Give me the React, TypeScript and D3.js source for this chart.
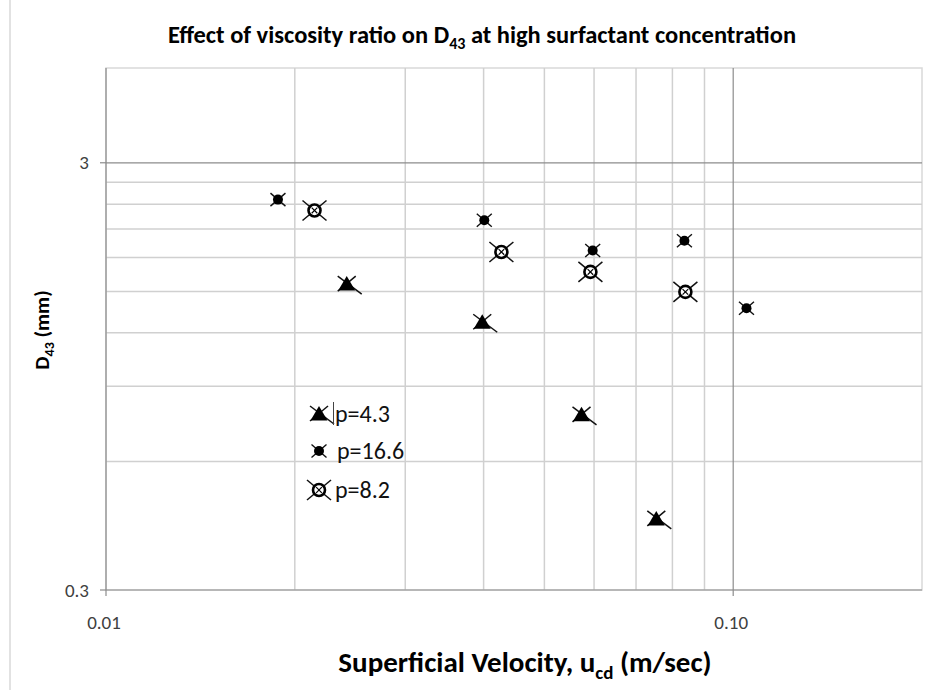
import React from "react";
import * as d3 from "d3";

// ---- Data ----
const seriesNames = ["p=4.3", "p=16.6", "p=8.2"];
const p43X = [0.0242, 0.0398, 0.0573, 0.0754];
const p43Y = [1.56, 1.27, 0.771, 0.44];
const p166X = [0.0188, 0.0401, 0.0597, 0.0836, 0.105];
const p166Y = [2.46, 2.2, 1.87, 1.97, 1.37];
const p82X = [0.0215, 0.0427, 0.0592, 0.0839];
const p82Y = [2.32, 1.855, 1.666, 1.496];

const xDomain = [0.01, 0.2];
const yDomain = [0.3, 5];
const xMinorTicks = [0.02, 0.03, 0.04, 0.05, 0.06, 0.07, 0.08, 0.09];
const xMajorTicks = [0.01, 0.1];
const xTickLabels = ["0.01", "0.10"];
const yMinorTicks = [0.6, 0.9, 1.2, 1.5, 1.8, 2.1, 2.4, 2.7];
const yMajorTicks = [0.3, 3];
const yTickLabels = ["0.3", "3"];

const FONT = "Carlito, Calibri, Lato, 'Open Sans', sans-serif";

const W = 945;
const H = 690;
const plot = { left: 106, right: 922, top: 68, bottom: 590 };

function Marker({ kind, x, y }: { kind: string; x: number; y: number }) {
  const stroke = "#111";
  if (kind === "tri") {
    return (
      <g transform={`translate(${x},${y})`}>
        <line x1={-9} y1={-8} x2={15} y2={10} stroke={stroke} strokeWidth={1.5} />
        <line x1={-9} y1={7} x2={9} y2={-8} stroke={stroke} strokeWidth={1.5} />
        <path d="M0,-8 L8.5,6.5 L-8.5,6.5 Z" fill="#000" />
      </g>
    );
  }
  if (kind === "dot") {
    return (
      <g transform={`translate(${x},${y})`}>
        <line x1={-7.5} y1={-6.5} x2={7.5} y2={6.5} stroke={stroke} strokeWidth={1.4} />
        <line x1={-7.5} y1={6.5} x2={7.5} y2={-6.5} stroke={stroke} strokeWidth={1.4} />
        <circle r={5} fill="#000" />
      </g>
    );
  }
  return (
    <g transform={`translate(${x},${y})`}>
      <line x1={-12} y1={-10} x2={12} y2={10} stroke={stroke} strokeWidth={1.5} />
      <line x1={-12} y1={10} x2={12} y2={-10} stroke={stroke} strokeWidth={1.5} />
      <circle r={6} fill="#fff" stroke="#000" strokeWidth={2.6} />
      <line x1={-2.8} y1={-2.8} x2={2.8} y2={2.8} stroke="#000" strokeWidth={1.2} />
      <line x1={-2.8} y1={2.8} x2={2.8} y2={-2.8} stroke="#000" strokeWidth={1.2} />
    </g>
  );
}

export default function App() {
  const x = d3.scaleLog().domain(xDomain).range([plot.left, plot.right]);
  const y = d3.scaleLog().domain(yDomain).range([plot.bottom, plot.top]);

  const series = [
    { kind: "tri", xs: p43X, ys: p43Y },
    { kind: "dot", xs: p166X, ys: p166Y },
    { kind: "circ", xs: p82X, ys: p82Y },
  ];
  const legendKinds = ["tri", "dot", "circ"];
  const legendY = [414, 451, 490];

  return (
    <svg
      width={W}
      height={H}
      style={{ position: "absolute", left: 0, top: 0, background: "#fff" }}
      fontFamily={FONT}
    >
      <rect x={0} y={0} width={W} height={H} fill="#fff" />
      <line x1={10} y1={0} x2={10} y2={H} stroke="#d9d9d9" strokeWidth={1.5} />

      {/* Title */}
      <text x={482} y={43} textAnchor="middle" fontSize={24.5} fontWeight="bold" fill="#000">
        Effect of viscosity ratio on D
        <tspan fontSize={16} dy={6}>43</tspan>
        <tspan dy={-6}> at high surfactant concentration</tspan>
      </text>

      {/* plot border */}
      <rect
        x={plot.left}
        y={plot.top}
        width={plot.right - plot.left}
        height={plot.bottom - plot.top}
        fill="none"
        stroke="#d9d9d9"
        strokeWidth={1.5}
      />

      {/* minor gridlines */}
      {xMinorTicks.map((t) => (
        <line key={"xm" + t} x1={x(t)} x2={x(t)} y1={plot.top} y2={plot.bottom} stroke="#d0d0d0" strokeWidth={1.5} />
      ))}
      {yMinorTicks.map((t) => (
        <line key={"ym" + t} x1={plot.left} x2={plot.right} y1={y(t)} y2={y(t)} stroke="#d0d0d0" strokeWidth={1.5} />
      ))}
      {/* major gridlines */}
      <line x1={x(0.1)} x2={x(0.1)} y1={plot.top} y2={plot.bottom} stroke="#8c8c8c" strokeWidth={1.2} />
      <line x1={plot.left} x2={plot.right} y1={y(3)} y2={y(3)} stroke="#8c8c8c" strokeWidth={1.2} />

      {/* axes */}
      <line x1={plot.left} x2={plot.left} y1={plot.top} y2={plot.bottom} stroke="#8c8c8c" strokeWidth={1.2} />
      <line x1={plot.left} x2={plot.right} y1={plot.bottom} y2={plot.bottom} stroke="#8c8c8c" strokeWidth={1.2} />
      {yMajorTicks.map((t) => (
        <line key={"yt" + t} x1={plot.left - 6} x2={plot.left} y1={y(t)} y2={y(t)} stroke="#8c8c8c" strokeWidth={1.2} />
      ))}
      {xMajorTicks.map((t) => (
        <line key={"xt" + t} x1={x(t)} x2={x(t)} y1={plot.bottom} y2={plot.bottom + 6} stroke="#8c8c8c" strokeWidth={1.2} />
      ))}

      {/* tick labels */}
      {yMajorTicks.map((t, i) => (
        <text key={"yl" + t} x={plot.left - 17} y={y(t) + 6.5} textAnchor="end" fontSize={19} fill="#404040">
          {yTickLabels[i]}
        </text>
      ))}
      {xMajorTicks.map((t, i) => (
        <text key={"xl" + t} x={x(t) - 2} y={629} textAnchor="middle" fontSize={19} fill="#404040">
          {xTickLabels[i]}
        </text>
      ))}

      {/* axis titles */}
      <text x={525} y={672} textAnchor="middle" fontSize={29} fontWeight="bold" fill="#000">
        Superficial Velocity, u
        <tspan fontSize={19} dy={7}>cd</tspan>
        <tspan dy={-7}> (m/sec)</tspan>
      </text>
      <text
        transform="translate(49,330) rotate(-90)"
        textAnchor="middle"
        fontSize={21}
        fontWeight="bold"
        fill="#000"
      >
        D<tspan fontSize={14} dy={5}>43</tspan>
        <tspan dy={-5}> (mm)</tspan>
      </text>

      {/* data */}
      {series.map((s) =>
        s.xs.map((v, i) => <Marker key={s.kind + i} kind={s.kind} x={x(v)} y={y(s.ys[i])} />)
      )}

      {/* legend */}
      {seriesNames.map((name, i) => (
        <g key={name}>
          <Marker kind={legendKinds[i]} x={319} y={legendY[i]} />
          <text x={i === 1 ? 337 : 335} y={legendY[i] + 8} fontSize={24} fill="#111">
            {name}
          </text>
        </g>
      ))}
      <line x1={333.5} x2={333.5} y1={402} y2={425} stroke="#444" strokeWidth={1} />
    </svg>
  );
}
